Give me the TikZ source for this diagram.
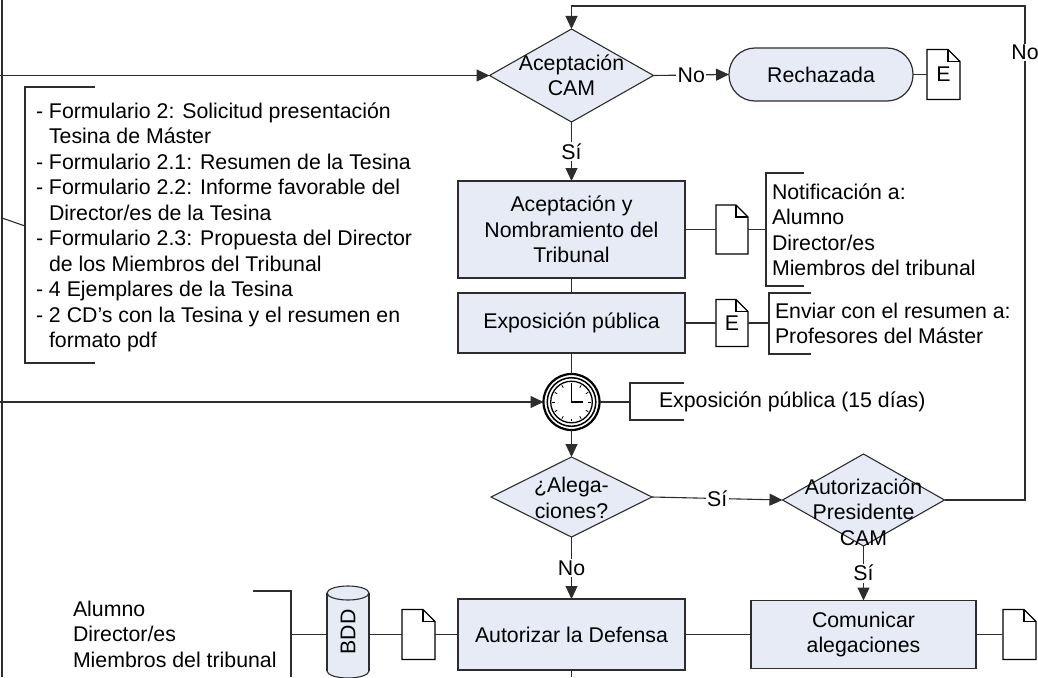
\documentclass[tikz,border=0pt]{standalone}
\usepackage{fontspec}
\usepackage{graphicx}
\setmainfont{Liberation Sans}
\usetikzlibrary{arrows.meta,shapes.geometric,calc}
\definecolor{boxfill}{RGB}{230,235,246}
\definecolor{lnc}{RGB}{45,45,45}
\newcommand\docoutline[1]{%
  \draw[line width=1.3pt] (#1.south west) -- (#1.north west) -- ($(#1.north east)+(-12,0)$) -- ($(#1.north east)+(0,12)$) -- (#1.south east) -- cycle;
  \draw[line width=1.3pt] ($(#1.north east)+(-12,0)$) |- ($(#1.north east)+(0,12)$);}
\begin{document}
\begin{tikzpicture}[x=1pt,y=-1pt,
  every node/.style={font=\fontsize{21.3}{25.5}\selectfont, inner sep=0pt, outer sep=0pt},
  conn/.style={draw=lnc, line width=1.1pt},
  arr/.style={conn, -{Triangle[length=13pt,width=12pt]}},
  procbox/.style={rectangle, draw=lnc, fill=boxfill, line width=1.2pt, align=center},
  decision/.style={diamond, draw=lnc, fill=boxfill, line width=1.1pt},
  lbl/.style={fill=white, inner sep=1.5pt},
  docnode/.style={rectangle, fill=white, minimum width=33pt, minimum height=50pt},
  annot/.style={align=left, anchor=west},
  brk/.style={draw=lnc, line width=1.1pt},
]
\useasboundingbox (0,0) rectangle (1038,677);

% ---- database cylinder (drawn first, text on top)
\coordinate (bddT) at (348,593);
\coordinate (bddB) at (348,671);
\fill[boxfill] (327,593) rectangle (369,671);
\fill[boxfill] (bddT) ellipse[x radius=21, y radius=7];
\fill[boxfill] (bddB) ellipse[x radius=21, y radius=7];
\draw[lnc, line width=1.1pt] (327,593) -- (327,671) (369,593) -- (369,671);
\draw[lnc, line width=1.1pt] (bddT) ellipse[x radius=21, y radius=7];
\begin{scope}
  \clip (320,671) rectangle (376,680);
  \draw[lnc, line width=1.1pt] (bddB) ellipse[x radius=21, y radius=7];
\end{scope}
\node[rectangle, minimum width=42pt, minimum height=92pt] (bdd) at (348,632) {\rotatebox{90}{BDD}};

% ---- main shapes
\node[decision, minimum width=164pt, minimum height=93pt] (d1) at (571.5,75.5) {};
\node[align=center] (d1t) at (d1.center) {Aceptación\\CAM};
\node[rectangle, draw=lnc, fill=boxfill, line width=1.2pt, rounded corners=26pt,
      minimum width=184pt, minimum height=53pt] (rech) at (821,74.5) {Rechazada};
\node[docnode] (doc0) at (943.5,74.5) {E};
\node[procbox, minimum width=227pt, minimum height=97pt] (b1) at (571.5,229.5)
  {Aceptación y\\Nombramiento del\\Tribunal};
\node[docnode, minimum width=32pt, minimum height=49pt] (doc1) at (732,229.5) {};
\node[procbox, minimum width=227pt, minimum height=60pt] (b2) at (571.5,323) {Exposición pública};
\node[docnode, minimum width=32pt, minimum height=47pt] (doc2) at (732,323) {E};
\node[circle, draw=black, line width=2.2pt, fill=white, minimum size=56pt] (clock) at (571.5,402) {};
\node[decision, minimum width=161pt, minimum height=80pt] (d2) at (571.5,497) {};
\node[align=center] (d2t) at (571.5,498) {¿Alega-\\ciones?};
\node[decision, minimum width=162pt, minimum height=92pt] (d3) at (863.5,500) {};
\node[align=center] (d3t) at (863.5,512) {Autorización\\Presidente\\CAM};
\node[procbox, minimum width=227pt, minimum height=71pt] (b3) at (571.5,634.5) {Autorizar la Defensa};
\node[procbox, minimum width=225pt, minimum height=68pt] (b4) at (863.5,634.5) {Comunicar\\alegaciones};
\node[docnode] (doc3) at (418.5,634.5) {};
\node[docnode] (doc4) at (1019.5,634.5) {};

% ---- document outlines
\docoutline{doc0}
\docoutline{doc1}
\docoutline{doc2}
\docoutline{doc3}
\docoutline{doc4}

% ---- clock details
\draw[line width=1.5pt] (clock.center) circle[radius=24.3];
\draw[line width=1.3pt] (clock.center) circle[radius=20.8];
\foreach \a in {0,30,...,330}
  \draw[line width=0.8pt] ($(clock.center)+(\a:16.5)$) -- ($(clock.center)+(\a:19.3)$);
\draw[line width=1.6pt] ($(clock.center)+(0,-16)$) -- (clock.center) -- ($(clock.center)+(11,0)$);

% ---- annotations
\node[annot] (ann1) at (36,227.5) {- Formulario 2: Solicitud presentación\\
\phantom{- }Tesina de Máster\\
- Formulario 2.1: Resumen de la Tesina\\
- Formulario 2.2: Informe favorable del\\
\phantom{- }Director/es de la Tesina\\
- Formulario 2.3: Propuesta del Director\\
\phantom{- }de los Miembros del Tribunal\\
- 4 Ejemplares de la Tesina\\
- 2 CD’s con la Tesina y el resumen en\\
\phantom{- }formato pdf};
\draw[brk] (95,87) -- (25,87) -- (25,363) -- (95,363);
\coordinate (ann1c) at (25,226);

\node[annot] (ann2) at (772,230) {Notificación a:\\Alumno\\Director/es\\Miembros del tribunal};
\draw[brk] (804,173) -- (766,173) -- (766,286) -- (804,286);
\coordinate (ann2c) at (766,229.5);

\node[annot] (ann3) at (775,323.2) {Enviar con el resumen a:\\Profesores del Máster};
\draw[brk] (811,293) -- (769,293) -- (769,354) -- (811,354);
\coordinate (ann3c) at (769,323);

\node[annot] (ann4) at (659,402) {Exposición pública (15 días)};
\draw[brk] (684,383) -- (630,383) -- (630,420) -- (684,420);
\coordinate (ann4c) at (630,402);

\node[annot] (ann5) at (73,634) {Alumno\\Director/es\\Miembros del tribunal};
\draw[brk] (253,591) -- (291,591) -- (291,677);
\coordinate (ann5c) at (291,634.5);

% ---- free ends
\coordinate (Btop) at (2,0);
\coordinate (Bbot) at (2,677);
\coordinate (Bmid) at (2,218);
\coordinate (L1) at (0,75.5);
\coordinate (L2) at (0,402);
\coordinate (loopTR) at (1025,6);
\coordinate (b3end) at (571.5,677);

% ---- connectors
\draw[conn] (Btop) -- (Bbot);
\draw[conn] (Bmid) -- (ann1c);
\draw[arr] (L1) -- (d1.west);
\draw[arr] (L2) -- (clock.west);
\draw[arr] (d1.east) -- node[lbl] (lNo1) {No} (rech.west);
\draw[conn] (rech.east) -- (doc0.west);
\draw[arr] (d1.south) -- node[lbl] (lSi1) {Sí} (b1.north);
\draw[conn] (b1.east) -- (doc1.west);
\draw[conn] (doc1.east) -- (ann2c);
\draw[conn] (b1.south) -- (b2.north);
\draw[conn] (b2.east) -- (doc2.west);
\draw[conn] (doc2.east) -- (ann3c);
\draw[conn] (b2.south) -- (clock.north);
\draw[conn] (clock.east) -- (ann4c);
\draw[arr] (clock.south) -- (d2.north);
\draw[arr] (d2.east) -- node[lbl] (lSi2) {Sí} (d3.west);
\draw[arr] (d2.south) -- node[lbl] (lNo2) {No} (b3.north);
\draw[arr] (d3.south) -- node[lbl] (lSi3) {Sí} (b4.north);
\draw[arr] (d3.east) -| node[lbl, pos=0.953] (lNo3) {No} (loopTR) -| (d1.north);
\draw[conn] (b3.east) -- (b4.west);
\draw[conn] (b4.east) -- (doc4.west);
\draw[conn] (doc3.east) -- (b3.west);
\draw[conn] (bdd.east |- doc3.west) -- (doc3.west);
\draw[conn] (ann5c) -- (bdd.west |- ann5c);
\draw[conn] (b3.south) -- (b3end);
\end{tikzpicture}
\end{document}
